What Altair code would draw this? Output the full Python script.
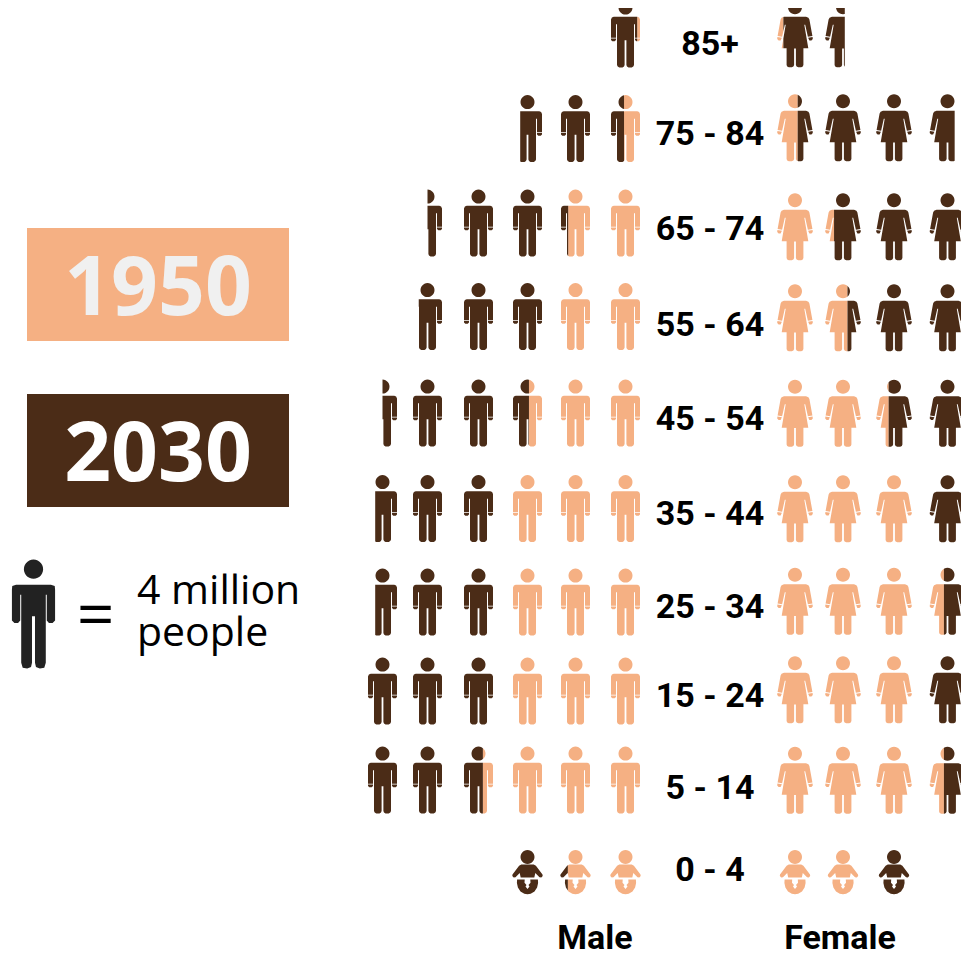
import math
import altair as alt
import pandas as pd

# Population per age band, in millions of people, nearest the centre first.
ages = ["85+", "75 - 84", "65 - 74", "55 - 64", "45 - 54", "35 - 44", "25 - 34", "15 - 24", "5 - 14", "0 - 4"]
male_1950 = [0.4, 2.2, 7.0, 8.0, 9.8, 12.0, 12.0, 12.0, 13.4, 7.0]
male_2030 = [4.0, 11.0, 18.0, 19.2, 22.0, 23.0, 23.0, 24.0, 24.0, 12.0]
female_1950 = [0.7, 2.3, 5.0, 6.5, 9.4, 12.0, 13.6, 12.0, 13.6, 8.0]
female_2030 = [6.2, 14.8, 16.0, 16.0, 16.0, 16.0, 16.0, 16.0, 16.0, 12.0]
people_per_icon = 4.0

# Layout of the pictogram grid (pixels).
MALE_COLS = [625.5, 575.5, 527.5, 478.5, 427.5, 382.5]
FEMALE_COLS = [795, 843, 894, 947.5]
MALE_ROW_Y = [34, 128.5, 223, 316.5, 413, 508.5, 602, 691, 780, 872]
FEMALE_ROW_Y = [34, 128, 227, 318, 413.5, 509, 601.5, 690, 780.5, 872]
LABEL_BASELINE = [55, 145, 240, 336, 430, 525, 618, 707, 799, 881]

LIGHT = "#F5B083"
DARK = "#4B2C17"
LABEL_FONT = "Roboto"


def circle(cx, cy, r, n=28):
    return [(cx + r * math.cos(2 * math.pi * k / n), cy + r * math.sin(2 * math.pi * k / n)) for k in range(n)]


def mirrored(half):
    """Close a right-hand outline with its reflection in the vertical axis."""
    return half + [(-x, y) for x, y in reversed(half)]


def both_sides(poly):
    return [poly, [(-x, y) for x, y in poly]]


MALE_BODY = mirrored([
    (3.5, -17.3), (11.8, -17.3), (13.6, -16.4), (14.5, -14.5), (14.5, 3.8), (9.5, 3.8), (9.5, -9.7), (8.5, -9.7),
    (8.5, 31), (7.8, 32.6), (6.2, 33.5), (3.0, 33.5), (1.5, 32.6), (0.9, 31), (0.9, 6.3), (0, 6.3),
])
MALE_HAND = [(14.5, 4.5), (14.5, 6), (13.2, 7.3), (10.8, 7.3), (9.5, 6), (9.5, 4.5)]
MALE_PARTS = [circle(0, -26.4, 7), MALE_BODY, *both_sides(MALE_HAND)]

FEMALE_BODY = mirrored([
    (3.5, -17.3), (11, -17.3), (13.4, -16.2), (14.4, -14.4), (17.4, 2.0), (12.9, 2.8), (10.2, -9.2), (9.3, -9.2),
    (13.3, 14.3), (8.4, 14.3), (8.4, 31), (7.8, 32.4), (6.2, 33.3), (3.2, 33.3), (1.6, 32.4), (0.9, 31), (0.9, 14.4), (0, 14.4),
])
FEMALE_HAND = [(17.6, 3.0), (17.8, 5.0), (16.4, 6.6), (14.4, 6.4), (13.1, 3.8)]
FEMALE_PARTS = [circle(0, -26.7, 7), FEMALE_BODY, *both_sides(FEMALE_HAND)]

BABY_BODY = mirrored([
    (0, -7.6), (6.2, -7.6), (8.4, -6.3), (15, 2.4), (15.2, 4), (13.8, 5.4), (12.0, 5.2), (7.8, 1.0), (6.8, 5.5), (0, 5.5),
])
BABY_DIAPER = [
    (0, 17), (2.0, 14.5), (1.0, 13), (3.0, 10.8), (2.8, 7.6), (10.4, 7.6), (10.6, 11), (9.6, 15.5), (7, 19.5), (3.2, 21.8), (0, 22.3),
]
BABY_PARTS = [circle(0, -15, 7), BABY_BODY, *both_sides(BABY_DIAPER)]

# The key icon is plain: no cuffs, and no gap between arm and hand.
KEY_PARTS = [circle(0, -26.4, 5.8), mirrored([
    (10.5, -17), (12.8, -16.2), (13, -14), (13, 4.5), (11.5, 6), (9.3, 6), (8, 4.5), (8, -11), (7.4, -11),
    (7.4, 30), (6.5, 33), (3.8, 33.5), (1.5, 32.5), (0.9, 30), (0.9, 2), (0, 2),
])]


def clip(poly, xmin, xmax):
    """Sutherland-Hodgman against the vertical band xmin..xmax."""
    for inside, edge in ((lambda p: p[0] >= xmin, xmin), (lambda p: p[0] <= xmax, xmax)):
        out = []
        for k, cur in enumerate(poly):
            prev = poly[k - 1]
            if inside(cur) != inside(prev):
                t = (edge - prev[0]) / (cur[0] - prev[0])
                out.append((edge, prev[1] + t * (cur[1] - prev[1])))
            if inside(cur):
                out.append(cur)
        poly = out
        if not poly:
            return []
    return poly


def to_path(parts):
    chunks = []
    for poly in parts:
        if len(poly) > 2:
            pts = [f"{x:.2f},{y:.2f}" for x, y in poly]
            chunks.append("M" + "L".join(pts) + "Z")
    return "".join(chunks)


HALF_WIDTH = {"male": 14.6, "female": 17.9, "baby": 15.3}
PARTS = {"male": MALE_PARTS, "female": FEMALE_PARTS, "baby": BABY_PARTS}
paths = {}


def fragment(kind, outward, lo, hi):
    """Path id for the slice lo..hi of an icon, measured from its centre-facing side."""
    key = f"{kind}|{outward}|{lo:.3f}|{hi:.3f}"
    if key not in paths:
        w = HALF_WIDTH[kind]
        if outward < 0:
            xmin, xmax = w - 2 * w * hi, w - 2 * w * lo
        else:
            xmin, xmax = -w + 2 * w * lo, -w + 2 * w * hi
        paths[key] = to_path([clip(p, xmin, xmax) for p in PARTS[kind]])
    return key


def icon_rows(sex, outward, v1950, v2030):
    rows = []
    for r, age in enumerate(ages):
        kind = "baby" if age == "0 - 4" else sex
        old, new = v1950[r] / people_per_icon, v2030[r] / people_per_icon
        for i in range(math.ceil(new)):
            col = outward * (i + 1)
            light = min(1.0, max(0.0, old - i))
            top = min(1.0, new - i)
            if light > 0:
                rows.append({"row": r, "col": col, "year": "1950", "piece": fragment(kind, outward, 0.0, light)})
            if top > light:
                rows.append({"row": r, "col": col, "year": "2030", "piece": fragment(kind, outward, light, top)})
    return rows


male_df = pd.DataFrame(icon_rows("male", -1, male_1950, male_2030))
female_df = pd.DataFrame(icon_rows("female", 1, female_1950, female_2030))
labels_df = pd.DataFrame({"row": list(range(len(ages))), "age": ages})

piece_ids = sorted(paths)
x_domain = [-c for c in range(len(MALE_COLS), 0, -1)] + [c for c in range(1, len(FEMALE_COLS) + 1)]
x_range = list(reversed(MALE_COLS)) + FEMALE_COLS
rows_domain = list(range(len(ages)))

x_enc = alt.X("col:Q", axis=None, scale=alt.Scale(domain=x_domain, range=x_range, nice=False, zero=False))
shape_enc = alt.Shape("piece:N", legend=None, scale=alt.Scale(domain=piece_ids, range=[paths[p] for p in piece_ids]))
color_enc = alt.Color("year:N", legend=None, scale=alt.Scale(domain=["1950", "2030"], range=[LIGHT, DARK]))


def icon_layer(df, row_y):
    return alt.Chart(df).mark_point(filled=True, opacity=1, size=4, strokeWidth=0, clip=False).encode(
        x=x_enc,
        y=alt.Y("row:Q", axis=None, scale=alt.Scale(domain=rows_domain, range=row_y, nice=False, zero=False)),
        shape=shape_enc,
        color=color_enc,
    )


male_icons = icon_layer(male_df, MALE_ROW_Y)
female_icons = icon_layer(female_df, FEMALE_ROW_Y)

# The top row runs off the edge of the figure.
top_edge = alt.Chart().mark_rect(color="white").encode(
    x=alt.value(0), x2=alt.value(961), y=alt.value(0), y2=alt.value(8)
)

age_labels = alt.Chart(labels_df).mark_text(
    font=LABEL_FONT, fontWeight="bold", fontSize=34, color="black", baseline="alphabetic", align="center"
).encode(
    x=alt.value(710),
    y=alt.Y("row:Q", axis=None, scale=alt.Scale(domain=rows_domain, range=LABEL_BASELINE, nice=False, zero=False)),
    text="age:N",
)


def caption(text, x, y, size, font=LABEL_FONT, weight="bold", color="black", align="center"):
    return alt.Chart().mark_text(
        text=text, font=font, fontWeight=weight, fontSize=size, color=color, baseline="alphabetic", align=align
    ).encode(x=alt.value(x), y=alt.value(y))


def box(color, y0, y1):
    return alt.Chart().mark_rect(color=color).encode(
        x=alt.value(27), x2=alt.value(289), y=alt.value(y0), y2=alt.value(y1)
    )


key_icon = alt.Chart().mark_point(
    filled=True, opacity=1, size=4 * 1.66 ** 2, strokeWidth=0, shape=to_path(KEY_PARTS), color="#222222"
).encode(x=alt.value(33.5), y=alt.value(613))

chart = alt.layer(
    male_icons,
    female_icons,
    top_edge,
    age_labels,
    caption("Male", 595, 949, 34),
    caption("Female", 840, 949, 34),
    box(LIGHT, 228, 341),
    box(DARK, 394, 507),
    caption("1950", 158, 315, 82, "Open Sans", "bold", "#F0F0F0"),
    caption("2030", 158, 481, 82, "Open Sans", "bold", "#FFFFFF"),
    key_icon,
    caption("=", 95.5, 637, 66, "Open Sans", "normal"),
    caption("4 million", 137, 604, 41, "Open Sans", "normal", align="left"),
    caption("people", 137, 646, 41, "Open Sans", "normal", align="left"),
).resolve_scale(y="independent").properties(
    width=961, height=954, padding=0, autosize=alt.AutoSizeParams(type="none")
).configure_view(stroke=None)

chart.save("out.html", embed_options={"renderer": "svg", "actions": False})
